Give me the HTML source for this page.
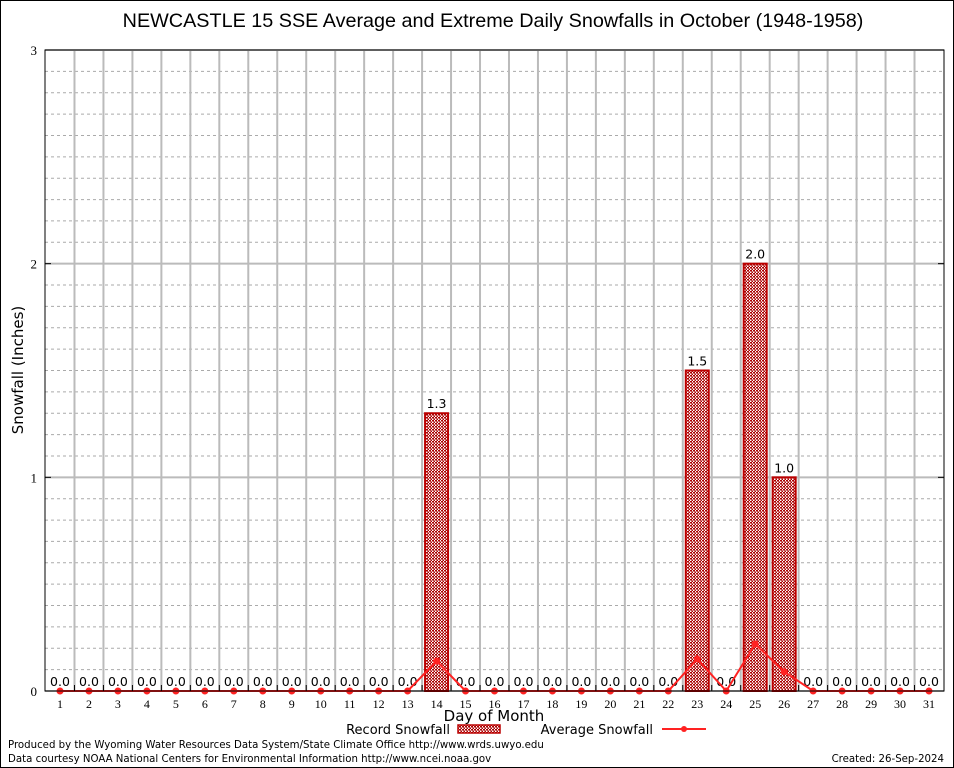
<!DOCTYPE html>
<html><head><meta charset="utf-8"><style>
html,body{margin:0;padding:0;background:#fff;}
svg{display:block;font-family:"DejaVu Sans","Liberation Sans",sans-serif;}
</style></head><body>
<svg id="chart" width="954" height="768" viewBox="0 0 954 768">
<rect x="0.5" y="0.5" width="953" height="767" fill="#fff" stroke="#000"/>
<text x="493" y="27" font-size="19.8" text-anchor="middle" font-family="Liberation Sans, sans-serif">NEWCASTLE 15 SSE Average and Extreme Daily Snowfalls in October (1948-1958)</text>
<g id="grid"></g>
<g id="bars"></g>
<g id="avg"></g>
<rect x="45" y="50" width="899" height="641" fill="none" stroke="#000"/>
<g id="axes"></g>
<text x="23" y="370" font-size="15" text-anchor="middle" transform="rotate(-90 23 370)">Snowfall (Inches)</text>
<text x="494" y="721" font-size="15" text-anchor="middle">Day of Month</text>
<g>
<text x="450" y="734" font-size="13" text-anchor="end">Record Snowfall</text>
<rect x="458" y="725" width="42" height="8" fill="url(#hatch)" stroke="#b00" stroke-width="1.5"/>
<text x="653" y="734" font-size="13" text-anchor="end">Average Snowfall</text>
<line x1="662" y1="729" x2="706" y2="729" stroke="#f22" stroke-width="2"/>
<circle cx="684" cy="729" r="3" fill="#f22"/>
</g>
<text x="8" y="748" font-size="10.2">Produced by the Wyoming Water Resources Data System/State Climate Office http://www.wrds.uwyo.edu</text>
<text x="8" y="762" font-size="10.2">Data courtesy NOAA National Centers for Environmental Information http://www.ncei.noaa.gov</text>
<text x="944" y="762" font-size="10.2" text-anchor="end">Created: 26-Sep-2024</text>
</svg>
<script>
const days = Array.from({length:31},(_,i)=>i+1);
const recordSnow = [0,0,0,0,0,0,0,0,0,0,0,0,0,1.3,0,0,0,0,0,0,0,0,1.5,0,2.0,1.0,0,0,0,0,0];
const avgSnow = [0,0,0,0,0,0,0,0,0,0,0,0,0,0.14,0,0,0,0,0,0,0,0,0.15,0,0.22,0.09,0,0,0,0,0];
const yTicks = [0,1,2,3];
const NS="http://www.w3.org/2000/svg";
const X0=45,X1=944,Y0=691,Y1=50,YMAX=3;
const x=d=>60+(d-1)*(929-60)/30;
const y=v=>Y0-(v/YMAX)*(Y0-Y1);
function mk(tag,attrs,parent){const e=document.createElementNS(NS,tag);for(const k in attrs)e.setAttribute(k,attrs[k]);parent.appendChild(e);return e;}
const grid=document.getElementById('grid'),bars=document.getElementById('bars'),avg=document.getElementById('avg'),axes=document.getElementById('axes');
const defs=mk('defs',{},document.getElementById('chart'));
const p=mk('pattern',{id:'hatch',width:3,height:3,patternUnits:'userSpaceOnUse'},defs);
mk('rect',{width:3,height:3,fill:'#fff'},p);
mk('rect',{width:2,height:1.5,fill:'#a00'},p);
mk('rect',{x:1.5,y:1.5,width:2,height:1.5,fill:'#a00'},p);
for(let v=0.1;v<YMAX-0.01;v+=0.1){ if(Math.abs(v-Math.round(v))<0.01)continue;
 const l=mk('line',{x1:X0,x2:X1,y1:y(v),y2:y(v),stroke:'#aaa','stroke-dasharray':'3,3','stroke-width':1},grid);
 
 }
yTicks.forEach(t=>{
 const l=mk('line',{x1:X0,x2:X1,y1:y(t),y2:y(t),stroke:'#bbb','stroke-width':2},grid);
 
 
 const tx=mk('text',{x:37,y:y(t)+5,'font-size':13,'text-anchor':'end','font-family':'Liberation Serif, serif'},axes);tx.textContent=t;
 
 
 mk('line',{x1:X0,x2:X0+6,y1:y(t),y2:y(t),stroke:'#000'},axes);
 mk('line',{x1:X1-6,x2:X1,y1:y(t),y2:y(t),stroke:'#000'},axes);
});
for(let d=1;d<31;d++){
 const l=mk('line',{x1:x(d+0.5),x2:x(d+0.5),y1:Y1,y2:Y0,stroke:'#bbb','stroke-width':2},grid);
 
 
 mk('line',{x1:x(d+0.5),x2:x(d+0.5),y1:Y0,y2:Y0-6,stroke:'#000'},axes);
}
days.forEach((d,i)=>{
 const v=recordSnow[i];
 if(v>0){const r=mk('rect',{x:x(d)-11.5,y:y(v),width:23,height:Y0-y(v),fill:'url(#hatch)',stroke:'#b00','stroke-width':2},bars);
  
  }
 const t=mk('text',{x:x(d),y:y(v)-5,'font-size':12.5,'text-anchor':'middle'},bars);t.textContent=v.toFixed(1);
 
 
 const tl=mk('text',{x:x(d),y:708,'font-size':12,'text-anchor':'middle','font-family':'Liberation Serif, serif'},axes);tl.textContent=d;
 
 
});
const pl=mk('polyline',{points:days.map((d,i)=>x(d)+','+y(avgSnow[i])).join(' '),fill:'none',stroke:'#f22','stroke-width':2},avg);


days.forEach((d,i)=>{const c=mk('circle',{cx:x(d),cy:y(avgSnow[i]),r:3.5,fill:'#f22'},avg);
 
 });
</script>
</body></html>
